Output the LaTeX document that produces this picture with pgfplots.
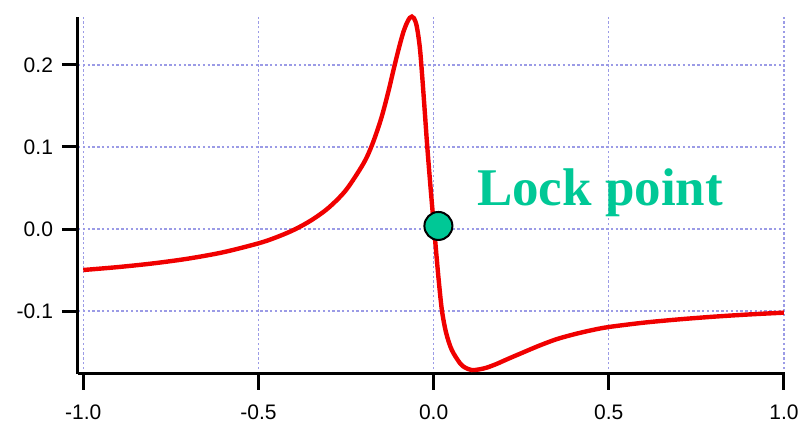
\documentclass[border=0pt]{standalone}
\usepackage{pgfplots}
\pgfplotsset{compat=1.18}
\usepackage{fontspec}
\setmainfont{Liberation Sans}
\newfontfamily\lockfont{Liberation Serif}
\definecolor{lockgreen}{RGB}{0,200,150}
\definecolor{gridblue}{RGB}{155,155,230}
\definecolor{curvered}{RGB}{240,0,0}
\begin{document}
\begin{tikzpicture}
\begin{axis}[
  at={(0,0)}, anchor=south west,
  scale only axis, width=353.5pt, height=178.5pt,
  xmin=-1.015, xmax=1.003, ymin=-0.1768, ymax=0.2585,
  axis x line*=bottom, axis y line*=left,
  axis line style={line width=1.5pt, -},
  xtick={-1,-0.5,0,0.5,1}, xticklabels={-1.0,-0.5,0.0,0.5,1.0},
  ytick={-0.1,0,0.1,0.2}, yticklabels={-0.1,0.0,0.1,0.2},
  tick align=outside, major tick length=8pt,
  tick style={line width=1.5pt, black},
  grid=major, grid style={dash pattern=on 1.2pt off 1.2pt, gridblue, line width=0.6pt},
  ticklabel style={font=\fontsize{10.5}{12}\selectfont},
  xticklabel style={yshift=-4pt},
  yticklabel style={xshift=-1pt},
  clip=false,
]
\addplot[curvered, line width=2.2pt, smooth, tension=0.5] coordinates {
(-1.0,-0.050) (-0.9,-0.0464) (-0.8,-0.0419) (-0.7,-0.0361)
(-0.6,-0.0283) (-0.5,-0.0175) (-0.45,-0.0103) (-0.4,-0.0013)
(-0.35,0.0104) (-0.3,0.0258) (-0.25,0.0475) (-0.2,0.080)
(-0.175,0.1032) (-0.15,0.1342) (-0.13,0.166) (-0.115,0.193)
(-0.105,0.2105) (-0.096,0.2255) (-0.086,0.2405) (-0.076,0.2515)
(-0.068,0.2575) (-0.062,0.259) (-0.056,0.257) (-0.048,0.247)
(-0.0385,0.218) (-0.028,0.160) (-0.018,0.100) (-0.007,0.042)
(0.004,-0.012) (0.0145,-0.062) (0.024,-0.100) (0.036,-0.127)
(0.052,-0.1476) (0.0756,-0.1638) (0.09,-0.169) (0.109,-0.172)
(0.13,-0.1712) (0.152,-0.169) (0.18,-0.1645) (0.209,-0.1590)
(0.25,-0.1515) (0.3,-0.1425) (0.35,-0.1345) (0.4,-0.1285)
(0.45,-0.1235) (0.5,-0.1195) (0.6,-0.1142) (0.7,-0.1102)
(0.8,-0.1069) (0.9,-0.1042) (1.0,-0.102)
};
\addplot[only marks, mark=*, mark size=7pt, mark options={fill=lockgreen, draw=black, line width=1pt}] coordinates {(0.0137,0.0037)};
\node[anchor=base west, inner sep=0pt, text=lockgreen, font=\lockfont\bfseries\fontsize{26.5}{30}\selectfont] at (axis cs:0.123,0.029) {Lock point};
\end{axis}
\pgfresetboundingbox
\path (-39pt,-25pt) rectangle (361pt,187pt);
\end{tikzpicture}
\end{document}
